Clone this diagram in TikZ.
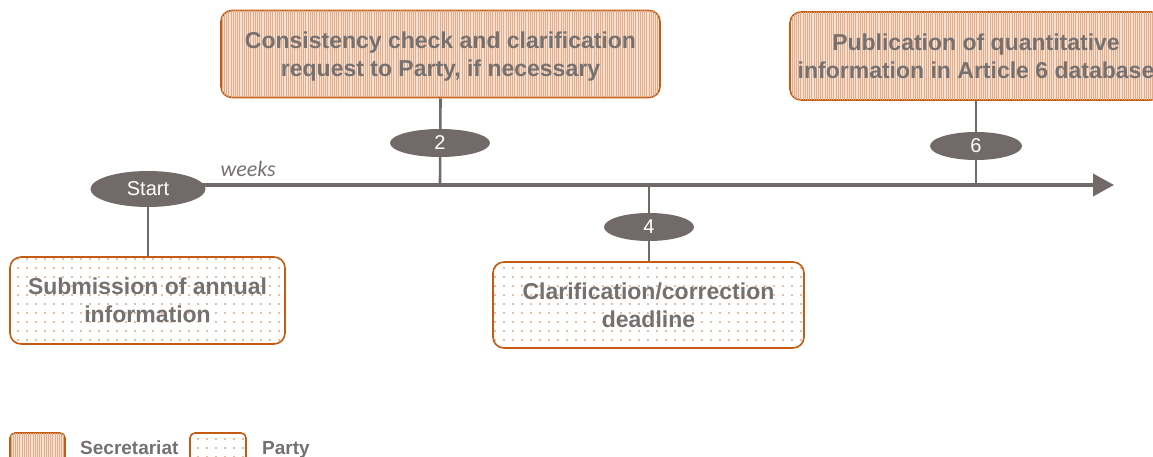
\documentclass[tikz,border=0pt]{standalone}
\usepackage{fontspec}
\setmainfont{Liberation Sans}
\newfontfamily\wkfont{Carlito}
\usetikzlibrary{shapes.geometric,patterns.meta,arrows.meta,backgrounds}
\definecolor{bord}{HTML}{C55A11}
\definecolor{txtg}{HTML}{767171}
\definecolor{ellg}{HTML}{716A68}
\tikzset{
  basebox/.style={draw=bord, line width=1.6pt, rounded corners=11pt, text=txtg, align=center,
    font=\bfseries\fontsize{23}{28}\selectfont, inner sep=0pt, text depth=0pt},
  secbox/.style={basebox, fill=bord!18,
    postaction={pattern={Lines[angle=90,distance=2.2pt,line width=0.7pt]}, pattern color=bord!50}},
  partybox/.style={basebox, fill=white,
    postaction={pattern={Dots[distance=9pt,radius=0.9pt]}, pattern color=bord!80}},
  mark ell/.style={ellipse, fill=ellg, draw=none, text=white, inner sep=0pt,
    font=\fontsize{20}{20}\selectfont},
  tick/.style={draw=ellg, line width=2.6pt},
  legtext/.style={text=txtg, font=\bfseries\fontsize{19}{19}\selectfont, anchor=base west, inner sep=0pt}
}
\begin{document}
\begin{tikzpicture}[x=1pt,y=-1pt]
\useasboundingbox (0,0) rectangle (1153,457);
% boxes
\node[secbox, minimum width=439pt, minimum height=87pt] (box2) at (440.5,54)
  {Consistency check and clarification\\request to Party, if necessary};
\node[secbox, minimum width=372pt, minimum height=88pt] (box6) at (976,56)
  {Publication of quantitative\\information in Article 6 database};
\node[partybox, minimum width=275pt, minimum height=87pt] (box1) at (147.5,300.5)
  {Submission of annual\\information};
\node[partybox, minimum width=311pt, minimum height=86pt] (box4) at (648.5,305)
  {Clarification/correction\\deadline};
% markers
\node[mark ell, minimum width=115pt, minimum height=36pt] (start) at (148,189) {Start};
\node[mark ell, minimum width=100pt, minimum height=28pt] (m2) at (440,143) {2};
\node[mark ell, minimum width=90pt, minimum height=28pt] (m4) at (649,227) {4};
\node[mark ell, minimum width=92pt, minimum height=28pt] (m6) at (976,146) {6};
% axis coordinates
\coordinate (a0) at (190,185);
\coordinate (a1) at (1114,185);
\coordinate (t2) at (440,185);
\coordinate (t4) at (649,185);
\coordinate (t6) at (976,185);
\node[text=txtg, font=\wkfont\itshape\fontsize{22}{22}\selectfont, anchor=base west] (wk) at (217,177) {weeks};
\begin{scope}[on background layer]
  \draw[draw=ellg, line width=3.6pt, -{Triangle[length=21pt,width=22pt]}] (a0) -- (a1);
  \draw[tick] (box2.south) -- (t2);
  \draw[tick] (box6.south -| t6) -- (t6);
  \draw[tick] (t4) -- (box4.north -| t4);
  \draw[tick] (start.center) -- (box1.north -| start.center);
\end{scope}
% legend
\node[secbox, minimum width=55pt, minimum height=30pt, rounded corners=5pt] (ls) at (37.5,448) {};
\node[legtext] (lst) at (80,454) {Secretariat};
\node[partybox, minimum width=56pt, minimum height=30pt, rounded corners=5pt] (lp) at (218,448) {};
\node[legtext] (lpt) at (262,454) {Party};
\end{tikzpicture}
\end{document}
